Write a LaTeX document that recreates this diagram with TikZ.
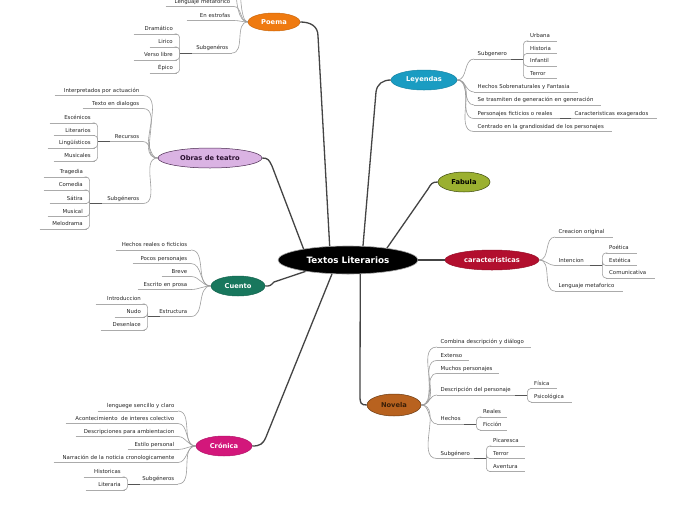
\documentclass[tikz,border=0pt]{standalone}
\usepackage{fontspec}
\setmainfont{DejaVu Sans}
\usetikzlibrary{shapes.geometric}
\definecolor{txtc}{HTML}{262626}
\definecolor{lgray}{HTML}{ABABAB}
\definecolor{cgray}{HTML}{9E9E9E}
\definecolor{dgray}{HTML}{555555}
\definecolor{mline}{HTML}{444444}
\definecolor{poemaC}{HTML}{EF7A10}
\definecolor{leyC}{HTML}{1A9CC2}
\definecolor{obrasC}{HTML}{DAB3E3}
\definecolor{obrasB}{HTML}{4A2A50}
\definecolor{obrasT}{HTML}{2A1030}
\definecolor{fabC}{HTML}{9BB030}
\definecolor{fabB}{HTML}{3D4A10}
\definecolor{carC}{HTML}{B20F2E}
\definecolor{cueC}{HTML}{18775D}
\definecolor{novC}{HTML}{B8621F}
\definecolor{novB}{HTML}{6B3A12}
\definecolor{novT}{HTML}{3A1F08}
\definecolor{croC}{HTML}{D3177B}
\tikzset{
  leaf/.style={inner xsep=3.5pt, inner ysep=1.8pt, text height=4pt, text depth=1.2pt,
    font=\fontsize{5.4}{6}\selectfont, text=txtc},
  uline/.style={draw=lgray, line width=0.75pt},
  conn/.style={draw=cgray, line width=0.6pt},
  dseg/.style={draw=dgray, line width=1pt},
  mainline/.style={draw=mline, line width=1.3pt},
  cat/.style={ellipse, inner sep=0pt, font=\fontsize{6.7}{8}\selectfont\bfseries, line width=0.5pt},
}
\newcommand\LeafL[5]{\pgfmathsetmacro\lfw{#3-#2-7}%
  \node[leaf,text width=\lfw pt,align=right,anchor=south east] (#1) at (#3,#4) {#5};
  \draw[uline] (#1.south west) -- (#1.south east);}
\newcommand\LeafR[5]{\pgfmathsetmacro\lfw{#3-#2-7}%
  \node[leaf,text width=\lfw pt,align=left,anchor=south west] (#1) at (#2,#4) {#5};
  \draw[uline] (#1.south west) -- (#1.south east);}
\newcommand\CL[2]{\draw[conn] (#1.west) to[out=180,in=0] (#2.south east);}
\newcommand\CR[2]{\draw[conn] (#1.east) to[out=0,in=180] (#2.south west);}
\newcommand\BL[2]{\draw[conn,rounded corners=3.5pt] (#1.south west) |- (#2.south east);}
\newcommand\BR[2]{\draw[conn,rounded corners=3.5pt] (#1.south east) |- (#2.south west);}
\newcommand\DL[1]{\draw[dseg] (#1.south west) -- ([xshift=12pt]#1.south west);}
\newcommand\DR[1]{\draw[dseg] (#1.south east) -- ([xshift=-12pt]#1.south east);}
\begin{document}
\begin{tikzpicture}[x=1pt,y=-1pt]
\useasboundingbox (0,0) rectangle (696,520);
\clip (0,0) rectangle (696,520);
\fill[white] (0,0) rectangle (696,520);

% central and category nodes
\node[ellipse, inner sep=0pt, minimum width=140pt, minimum height=28pt, fill=black, draw=gray!70, line width=0.6pt,
  text=white, font=\fontsize{8.8}{10}\selectfont\bfseries] (root) at (348,260) {Textos Literarios};
\node[cat, fill=poemaC, draw=poemaC!85!black, text=white, minimum width=52pt, minimum height=18pt] (poema) at (274,22) {Poema};
\node[cat, fill=leyC, draw=leyC!85!black, text=white, minimum width=66pt, minimum height=20pt] (leyendas) at (424,80) {Leyendas};
\node[cat, fill=obrasC, draw=obrasB, text=obrasT, minimum width=104pt, minimum height=20pt] (obras) at (210,158) {Obras de teatro};
\node[cat, fill=fabC, draw=fabB, text=black, minimum width=52pt, minimum height=20pt] (fabula) at (464,182) {Fabula};
\node[cat, fill=carC, draw=carC!85!black, text=white, minimum width=94pt, minimum height=20pt] (car) at (492,260) {caracteristicas};
\node[cat, fill=cueC, draw=cueC!85!black, text=white, minimum width=54pt, minimum height=20pt] (cuento) at (238,286) {Cuento};
\node[cat, fill=novC, draw=novB, text=novT, minimum width=54pt, minimum height=22pt] (novela) at (394,405) {Novela};
\node[cat, fill=croC, draw=croC!85!black, text=white, minimum width=56pt, minimum height=20pt] (cronica) at (224,446) {Crónica};

% bend points of the main connectors
\coordinate (kpoema) at (318,36);
\coordinate (kobras) at (272,166);
\coordinate (kley) at (376,92);
\coordinate (kfab) at (428,189);
\coordinate (knov) at (360,396);
\coordinate (kcro) at (266,437);
\coordinate (kcue) at (274,282);
\coordinate (pTop1) at (236,-12);
\coordinate (pTop2) at (240,-30);

\draw[mainline] (root.143) -- (kpoema) .. controls +(0,-10) and +(10,0) .. (poema.east);
\draw[mainline] (root.166) -- (kobras) .. controls +(-3,-6) and +(6,0) .. (obras.east);
\draw[mainline] (root.43) -- (kley) .. controls +(1,-8) and +(-8,0) .. (leyendas.west);
\draw[mainline] (root.17) -- (kfab) .. controls +(3,-5) and +(-6,0) .. (fabula.west);
\draw[mainline] (root.east) -- (car.west);
\draw[mainline] (root.-49) -- (knov) .. controls +(0,7) and +(-6,0) .. (novela.west);
\draw[mainline] (root.221) -- (kcro) .. controls +(-3,7) and +(8,0) .. (cronica.east);
\draw[mainline] (root.195) -- (kcue) .. controls +(-4,4) and +(5,0) .. (cuento.east);

% ---------- Poema ----------
\LeafL{pLm}{166}{234}{6.5}{Lenguaje metaforico}
\LeafL{pEs}{187}{234}{20.5}{En estrofas}
\LeafL{pSg}{180}{232}{53}{Subgenéros}
\LeafL{pDr}{134}{176.5}{34}{Dramático}
\LeafL{pLi}{150}{176.5}{47}{Lirico}
\LeafL{pVl}{134}{176.5}{60}{Verso libre}
\LeafL{pEp}{150}{176.5}{73}{Épico}
\draw[conn] (poema.west) .. controls +(-10,0) and +(0,12) .. (pTop1);
\draw[conn] (poema.west) .. controls +(-8,0) and +(0,14) .. (pTop2);
\CL{poema}{pLm}\CL{poema}{pEs}\CL{poema}{pSg}
\BL{pSg}{pDr}\BL{pSg}{pLi}\BL{pSg}{pVl}\BL{pSg}{pEp}\DL{pSg}

% ---------- Leyendas ----------
\LeafR{lSg}{474}{523}{59}{Subgenero}
\LeafR{lUr}{526.5}{557}{41}{Urbana}
\LeafR{lHi}{526.5}{557}{53.5}{Historia}
\LeafR{lIn}{526.5}{557}{66}{Infantil}
\LeafR{lTe}{526.5}{557}{78.5}{Terror}
\LeafR{lHe}{474}{578}{92}{Hechos Sobrenaturales y Fantasia}
\LeafR{lSe}{474}{601}{105}{Se trasmiten de generación en generación}
\LeafR{lPe}{474}{560}{118.5}{Personajes ficticios o reales}
\LeafR{lCa}{571}{657}{118.5}{Caracteristicas exagerados}
\LeafR{lCe}{474}{612}{131.5}{Centrado en la grandiosidad de los personajes}
\CR{leyendas}{lSg}\CR{leyendas}{lHe}\CR{leyendas}{lSe}\CR{leyendas}{lPe}\CR{leyendas}{lCe}
\BR{lSg}{lUr}\BR{lSg}{lHi}\BR{lSg}{lIn}\BR{lSg}{lTe}\DR{lSg}
\draw[dseg] (lPe.south east) -- (lCa.south west);

% ---------- Obras de teatro ----------
\LeafL{oIn}{55}{143}{95.5}{Interpretados por actuación}
\LeafL{oTe}{83}{143}{108.5}{Texto en dialogos}
\LeafL{oRe}{98}{143}{141.5}{Recursos}
\LeafL{oEs}{50}{94.5}{123}{Escénicos}
\LeafL{oLi}{54}{94.5}{135.5}{Literarios}
\LeafL{oLg}{48}{94.5}{148}{Lingüísticos}
\LeafL{oMu}{54}{94.5}{161}{Musicales}
\LeafL{oSg}{90}{143}{203.5}{Subgéneros}
\LeafL{oTr}{44}{86.5}{177}{Tragedia}
\LeafL{oCo}{44}{86.5}{190}{Comedia}
\LeafL{oSa}{50}{86.5}{203.5}{Sátira}
\LeafL{oMs}{48}{86.5}{216.5}{Musical}
\LeafL{oMe}{40}{86.5}{229}{Melodrama}
\CL{obras}{oIn}\CL{obras}{oTe}\CL{obras}{oRe}\CL{obras}{oSg}
\BL{oRe}{oEs}\BL{oRe}{oLi}\BL{oRe}{oLg}\BL{oRe}{oMu}\DL{oRe}
\BL{oSg}{oTr}\BL{oSg}{oCo}\BL{oSg}{oSa}\BL{oSg}{oMs}\BL{oSg}{oMe}\DL{oSg}

% ---------- Fabula / caracteristicas ----------
\LeafR{kCr}{555}{613}{237}{Creacion original}
\LeafR{kIn}{555}{602}{265.5}{Intencion}
\LeafR{kPo}{605.5}{637}{253}{Poética}
\LeafR{kEs}{605.5}{637}{265.5}{Estética}
\LeafR{kCo}{605.5}{655}{278}{Comunicativa}
\LeafR{kLe}{555}{623}{291}{Lenguaje metaforico}
\CR{car}{kCr}\CR{car}{kIn}\CR{car}{kLe}
\BR{kIn}{kPo}\BR{kIn}{kEs}\BR{kIn}{kCo}\DR{kIn}

% ---------- Cuento ----------
\LeafL{cHe}{116}{191}{250}{Hechos reales o ficticios}
\LeafL{cPo}{133}{191}{263.5}{Pocos personajes}
\LeafL{cBr}{162}{191}{276.5}{Breve}
\LeafL{cEs}{138}{191}{289.5}{Escrito en prosa}
\LeafL{cEt}{148}{191}{316.5}{Estructura}
\LeafL{cIn}{96}{144.5}{304}{Introduccion}
\LeafL{cNu}{115}{144.5}{317}{Nudo}
\LeafL{cDe}{101}{144.5}{330}{Desenlace}
\CL{cuento}{cHe}\CL{cuento}{cPo}\CL{cuento}{cBr}\CL{cuento}{cEs}\CL{cuento}{cEt}
\BL{cEt}{cIn}\BL{cEt}{cNu}\BL{cEt}{cDe}\DL{cEt}

% ---------- Novela ----------
\LeafR{nCo}{437}{531}{347}{Combina descripción y diálogo}
\LeafR{nEx}{437}{469}{360.5}{Extenso}
\LeafR{nMu}{437}{499}{373.5}{Muchos personajes}
\LeafR{nDe}{437}{527}{395}{Descripción del personaje}
\LeafR{nFi}{530.5}{557}{388.5}{Física}
\LeafR{nPs}{530.5}{572}{402}{Psicológica}
\LeafR{nHe}{437}{476}{424}{Hechos}
\LeafR{nRe}{479.5}{507}{417}{Reales}
\LeafR{nFc}{479.5}{507}{430}{Ficción}
\LeafR{nSg}{437}{486}{458.5}{Subgénero}
\LeafR{nPi}{489.5}{525}{446}{Picaresca}
\LeafR{nTe}{489.5}{525}{458.5}{Terror}
\LeafR{nAv}{489.5}{525}{471.5}{Aventura}
\CR{novela}{nCo}\CR{novela}{nEx}\CR{novela}{nMu}\CR{novela}{nDe}\CR{novela}{nHe}\CR{novela}{nSg}
\BR{nDe}{nFi}\BR{nDe}{nPs}\DR{nDe}
\BR{nHe}{nRe}\BR{nHe}{nFc}\DR{nHe}
\BR{nSg}{nPi}\BR{nSg}{nTe}\BR{nSg}{nAv}\DR{nSg}

% ---------- Crónica ----------
\LeafL{rLe}{98}{178}{411}{lenguege sencillo y claro}
\LeafL{rAc}{66}{178}{423.5}{Acontecimiento\ \ de interes colectivo}
\LeafL{rDe}{76}{178}{436.5}{Descripciones para ambientacion}
\LeafL{rEs}{128}{178}{449.5}{Estilo personal}
\LeafL{rNa}{54}{178}{462.5}{Narración de la noticia cronologicamente}
\LeafL{rSg}{128}{178}{484}{Subgéneros}
\LeafL{rHi}{84}{124.5}{477}{Historicas}
\LeafL{rLt}{86}{124.5}{490}{Literaria}
\CL{cronica}{rLe}\CL{cronica}{rAc}\CL{cronica}{rDe}\CL{cronica}{rEs}\CL{cronica}{rNa}\CL{cronica}{rSg}
\BL{rSg}{rHi}\BL{rSg}{rLt}\DL{rSg}
\end{tikzpicture}
\end{document}
